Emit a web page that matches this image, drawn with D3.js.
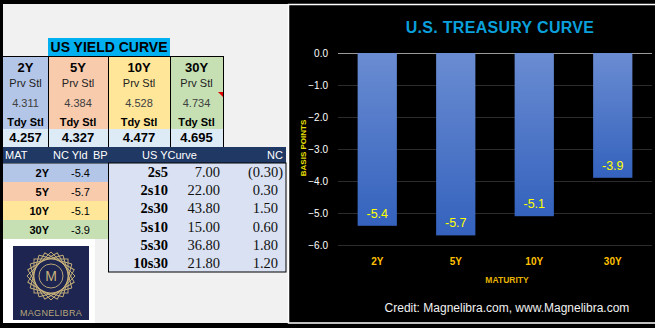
<!doctype html>
<html>
<head>
<meta charset="UTF-8">
<script src="https://d3js.org/d3.v7.min.js"></script>
<style>
body { margin: 0; background: #000; }
svg { display: block; }
text { font-family: "Liberation Sans", Arial, sans-serif; }
.serif { font-family: "Liberation Serif", "Times New Roman", serif; }
</style>
</head>
<body>
<script>
// settlement table
var maturities = ["2Y", "5Y", "10Y", "30Y"];
var prevSettle = [4.311, 4.384, 4.528, 4.734];
var todaySettle = [4.257, 4.327, 4.477, 4.695];
var changeBp = [-5.4, -5.7, -5.1, -3.9];

// curve spreads
var spreadNames = ["2s5", "2s10", "2s30", "5s10", "5s30", "10s30"];
var spreadValues = [7.00, 22.00, 43.80, 15.00, 36.80, 21.80];
var spreadChanges = [-0.30, 0.30, 1.50, 0.60, 1.80, 1.20];

var yTicks = [0, -1, -2, -3, -4, -5, -6];
var colColors = ["#b4c6e7", "#f8cbad", "#ffe699", "#c6e0b4"];

var w = 655, h = 328;
var svg = d3.select("body").append("svg").attr("width", w).attr("height", h);

svg.append("rect").attr("width", w).attr("height", h).attr("fill", "#000");
// grey sheet background
svg.append("rect").attr("x", 3).attr("y", 4).attr("width", 285).attr("height", 319).attr("fill", "#f1f1f1");

// ---------- yield table ----------
var t = svg.append("g");
var colEdges = [3, 48, 108, 170, 223];
var colX = d3.scaleOrdinal().domain(maturities).range(colEdges.slice(0, 4));
var colW = function(i) { return colEdges[i + 1] - colEdges[i]; };

t.append("rect").attr("x", 48).attr("y", 38).attr("width", 122).attr("height", 18).attr("fill", "#00b0f0");
t.append("text").attr("x", 109).attr("y", 52).attr("text-anchor", "middle")
  .attr("font-size", 14).attr("font-weight", "bold").attr("fill", "#000").text("US YIELD CURVE");

maturities.forEach(function(m, i) {
  var x0 = colX(m), cx = x0 + colW(i) / 2;
  t.append("rect").attr("x", x0).attr("y", 56).attr("width", colW(i)).attr("height", 73).attr("fill", colColors[i]);
  t.append("rect").attr("x", x0).attr("y", 129).attr("width", colW(i)).attr("height", 18).attr("fill", "#ddebf7");
  t.append("text").attr("x", cx).attr("y", 72).attr("text-anchor", "middle").attr("font-size", 13)
    .attr("font-weight", "bold").attr("fill", "#000").text(m);
  t.append("text").attr("x", cx).attr("y", 87).attr("text-anchor", "middle").attr("font-size", 11)
    .attr("fill", "#222").text("Prv Stl");
  t.append("text").attr("x", cx).attr("y", 107).attr("text-anchor", "middle").attr("font-size", 11)
    .attr("fill", "#404040").text(prevSettle[i].toFixed(3));
  t.append("text").attr("x", cx).attr("y", 126).attr("text-anchor", "middle").attr("font-size", 11)
    .attr("font-weight", "bold").attr("fill", "#000").text("Tdy Stl");
  t.append("text").attr("x", cx).attr("y", 142).attr("text-anchor", "middle").attr("font-size", 13)
    .attr("font-weight", "bold").attr("fill", "#000").text(todaySettle[i].toFixed(3));
});
// cell borders
t.append("line").attr("x1", 3).attr("x2", 223).attr("y1", 56.5).attr("y2", 56.5).attr("stroke", "#000");
colEdges.slice(1).forEach(function(x) {
  t.append("line").attr("x1", x + 0.5).attr("x2", x + 0.5).attr("y1", 56).attr("y2", 147).attr("stroke", "#000");
});
// comment marker
t.append("path").attr("d", "M218,92L223,92L223,97Z").attr("fill", "#e00000");

// header bar
t.append("rect").attr("x", 3).attr("y", 147).attr("width", 283).attr("height", 16).attr("fill", "#1f3864");
[["MAT", 5, "start"], ["NC Yld", 53, "start"], ["BP", 93, "start"], ["US YCurve", 142, "start"], ["NC", 283, "end"]]
  .forEach(function(d) {
    t.append("text").attr("x", d[1]).attr("y", 159).attr("text-anchor", d[2]).attr("font-size", 11)
      .attr("fill", "#fff").text(d[0]);
  });

// net change by maturity
var rowY = d3.scaleBand().domain(maturities).range([163, 239]);
maturities.forEach(function(m, i) {
  var y0 = rowY(m);
  t.append("rect").attr("x", 3).attr("y", y0).attr("width", 105).attr("height", rowY.bandwidth()).attr("fill", colColors[i]);
  t.append("text").attr("x", 49).attr("y", y0 + 14).attr("text-anchor", "end").attr("font-size", 11)
    .attr("font-weight", "bold").attr("fill", "#000").text(m);
  t.append("text").attr("x", 71).attr("y", y0 + 14).attr("font-size", 11).attr("fill", "#000").text(changeBp[i].toFixed(1));
});
t.append("line").attr("x1", 3).attr("x2", 108).attr("y1", 163.5).attr("y2", 163.5).attr("stroke", "#333").attr("stroke-width", 0.6);

// white block behind logo
t.append("rect").attr("x", 3).attr("y", 239).attr("width", 92).attr("height", 84).attr("fill", "#fff");

// spreads block
t.append("rect").attr("x", 108.5).attr("y", 163).attr("width", 177.5).attr("height", 109).attr("fill", "#d9e1f2")
  .attr("stroke", "#000").attr("stroke-width", 1);
var sprY = d3.scaleBand().domain(spreadNames).range([163, 272]);
var fmtNc = function(v) { return v < 0 ? "(" + Math.abs(v).toFixed(2) + ")" : v.toFixed(2); };
spreadNames.forEach(function(s, i) {
  var yb = sprY(s) + sprY.bandwidth() / 2 + 5;
  t.append("text").attr("class", "serif").attr("x", 168).attr("y", yb).attr("text-anchor", "end")
    .attr("font-size", 14.5).attr("font-weight", "bold").attr("fill", "#000").text(s);
  t.append("text").attr("class", "serif").attr("x", 220).attr("y", yb).attr("text-anchor", "end")
    .attr("font-size", 14.5).attr("fill", "#111").text(spreadValues[i].toFixed(2));
  t.append("text").attr("class", "serif").attr("x", spreadChanges[i] < 0 ? 283 : 278).attr("y", yb).attr("text-anchor", "end")
    .attr("font-size", 14.5).attr("fill", "#111").text(fmtNc(spreadChanges[i]));
});

// ---------- logo ----------
var logo = svg.append("g").attr("transform", "translate(51,283)");
logo.append("rect").attr("x", -38).attr("y", -37).attr("width", 76).attr("height", 74).attr("fill", "#1d2550");
var star = logo.append("g").attr("transform", "translate(0,-7)");
d3.range(6).forEach(function(k) {
  star.append("rect").attr("x", -17).attr("y", -17).attr("width", 34).attr("height", 34)
    .attr("transform", "rotate(" + (k * 15) + ")").attr("fill", "none").attr("stroke", "#c8b27a").attr("stroke-width", 0.9);
});
star.append("circle").attr("r", 12).attr("fill", "#1d2550").attr("stroke", "#c8b27a").attr("stroke-width", 0.9);
star.append("text").attr("y", 5).attr("text-anchor", "middle").attr("font-size", 14).attr("fill", "#c8b27a").text("M");
logo.append("text").attr("y", 33).attr("text-anchor", "middle").attr("font-size", 9).attr("letter-spacing", 0.3)
  .attr("fill", "#b7a67c").text("MAGNELIBRA");

// ---------- bar chart ----------
var c = svg.append("g");
c.append("rect").attr("x", 288.5).attr("y", 4.5).attr("width", 370).attr("height", 318.5)
  .attr("fill", "#000").attr("stroke", "#fff").attr("stroke-width", 1.5);

var x = d3.scaleBand().domain(maturities).range([338, 652]).paddingInner(0.5).paddingOuter(0.25);
var y = d3.scaleLinear().domain([-6, 0]).range([245, 53]);

var grad = svg.append("defs").append("linearGradient").attr("id", "barGrad")
  .attr("x1", 0).attr("x2", 0).attr("y1", 0).attr("y2", 1);
grad.append("stop").attr("offset", "0%").attr("stop-color", "#6a8cd2");
grad.append("stop").attr("offset", "100%").attr("stop-color", "#3462bd");

c.append("text").attr("x", 500).attr("y", 33).attr("text-anchor", "middle").attr("font-size", 16)
  .attr("font-weight", "bold").attr("letter-spacing", 0.3).attr("fill", "#0aa0dc").text("U.S. TREASURY CURVE");

c.selectAll(".grid").data(yTicks).enter().append("line")
  .attr("x1", 338).attr("x2", 652)
  .attr("y1", function(d) { return Math.round(y(d)) + 0.5; })
  .attr("y2", function(d) { return Math.round(y(d)) + 0.5; })
  .attr("stroke", function(d) { return d === 0 ? "#9a9a9a" : "#2b2b2b"; });

var yAxis = c.append("g").attr("transform", "translate(330,0)")
  .call(d3.axisLeft(y).tickValues(yTicks).tickSize(0).tickFormat(d3.format(".1f")));
yAxis.select(".domain").remove();
yAxis.selectAll("text").attr("x", -2).attr("fill", "#fff").attr("font-size", 10)
  .attr("font-family", "Liberation Sans, Arial, sans-serif");

c.selectAll(".bar").data(maturities).enter().append("rect")
  .attr("x", function(d) { return x(d); })
  .attr("y", y(0))
  .attr("width", x.bandwidth())
  .attr("height", function(d, i) { return y(changeBp[i]) - y(0); })
  .attr("fill", "url(#barGrad)");

c.selectAll(".val").data(maturities).enter().append("text")
  .attr("x", function(d) { return x(d) + x.bandwidth() / 2; })
  .attr("y", function(d, i) { return y(changeBp[i]) - 8; })
  .attr("text-anchor", "middle").attr("font-size", 12.5).attr("fill", "#ffff00")
  .text(function(d, i) { return changeBp[i].toFixed(1); });

var xAxis = c.append("g").attr("transform", "translate(0,245)")
  .call(d3.axisBottom(x).tickSize(0));
xAxis.select(".domain").remove();
xAxis.selectAll("text").attr("y", 13).attr("fill", "#ffc000").attr("font-size", 10).attr("font-weight", "bold")
  .attr("font-family", "Liberation Sans, Arial, sans-serif");

c.append("text").attr("x", 507).attr("y", 283).attr("text-anchor", "middle").attr("font-size", 8.5)
  .attr("font-weight", "bold").attr("fill", "#e6b400").text("MATURITY");
c.append("text").attr("transform", "translate(306,148) rotate(-90)").attr("text-anchor", "middle")
  .attr("font-size", 8).attr("font-weight", "bold").attr("fill", "#ece000").text("BASIS POINTS");

c.append("text").attr("x", 507).attr("y", 312).attr("text-anchor", "middle").attr("font-size", 12)
  .attr("fill", "#f2f2f2").text("Credit: Magnelibra.com, www.Magnelibra.com");
</script>
</body>
</html>
